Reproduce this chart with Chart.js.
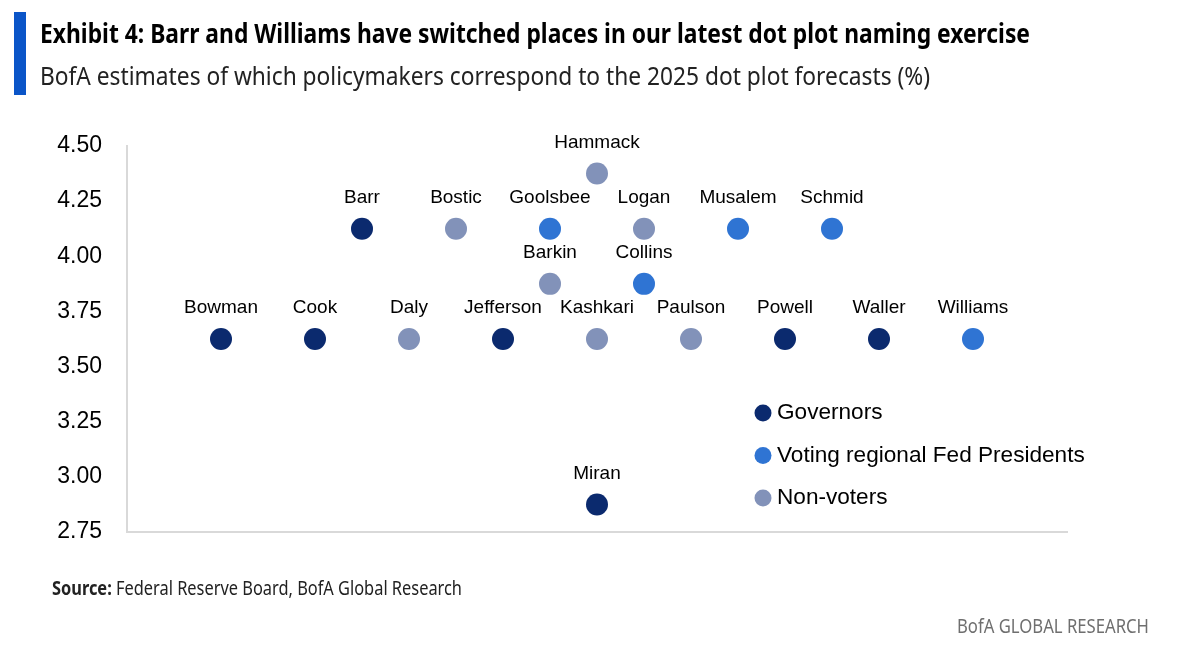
<!DOCTYPE html>
<html>
<head>
<meta charset="utf-8">
<script src="https://cdn.jsdelivr.net/npm/chart.js@4.4.1/dist/chart.umd.min.js"></script>
<style>
  html, body { margin: 0; padding: 0; background: #fff; }
  #page { position: relative; width: 1181px; height: 657px; overflow: hidden; background: #fff; }
  #bar { position: absolute; left: 14px; top: 12px; width: 12px; height: 83px; background: #0b55c8; }
  .fit { position: absolute; white-space: nowrap; transform-origin: 0 50%; line-height: 1; }
  #title { left: 40px; top: 19px; font-family: "Liberation Sans Narrow", "Noto Sans", sans-serif; font-weight: bold; font-size: 27px; color: #000; }
  #subtitle { left: 40px; top: 62px; font-family: "Liberation Sans Narrow", "Noto Sans", sans-serif; font-size: 26px; color: #222; }
  #source { left: 52px; top: 579px; font-family: "Liberation Sans Narrow", "Noto Sans", sans-serif; font-size: 19px; color: #222; }
  #brand { left: 957px; top: 616px; font-family: "Liberation Sans Narrow", "Noto Sans", sans-serif; font-size: 20px; color: #6f6f6f; }
  #wrap { position: absolute; left: 0; top: 0; width: 1181px; height: 657px; }
</style>
</head>
<body>
<div id="page">
  <div id="wrap"><canvas id="c" width="1181" height="657"></canvas></div>
  <div id="bar"></div>
  <div id="title" class="fit" data-w="990">Exhibit 4: Barr and Williams have switched places in our latest dot plot naming exercise</div>
  <div id="subtitle" class="fit" data-w="890">BofA estimates of which policymakers correspond to the 2025 dot plot forecasts (%)</div>
  <div id="source" class="fit" data-w="410"><b>Source:</b> Federal Reserve Board, BofA Global Research</div>
  <div id="brand" class="fit" data-w="192">BofA GLOBAL RESEARCH</div>
</div>
<script>
// ---- Data ----
const names  = ["Bowman","Cook","Daly","Jefferson","Kashkari","Paulson","Powell","Waller","Williams",
                "Barr","Bostic","Goolsbee","Logan","Musalem","Schmid",
                "Barkin","Collins","Hammack","Miran"];
const xPos   = [1,2,3,4,5,6,7,8,9,
                2.5,3.5,4.5,5.5,6.5,7.5,
                4.5,5.5,5,5];
const rates  = [3.625,3.625,3.625,3.625,3.625,3.625,3.625,3.625,3.625,
                4.125,4.125,4.125,4.125,4.125,4.125,
                3.875,3.875,4.375,2.875];
const groups = ["gov","gov","non","gov","non","non","gov","gov","vote",
                "gov","non","vote","non","vote","vote",
                "non","vote","non","gov"];
const groupKeys   = ["gov","vote","non"];
const groupLabels = ["Governors","Voting regional Fed Presidents","Non-voters"];
const groupColors = ["#0b2a6e","#2f74d3","#8292b9"];
const yTicks = [2.75,3.00,3.25,3.50,3.75,4.00,4.25,4.50];

// ---- Build datasets ----
const datasets = groupKeys.map((k, gi) => {
  const pts = [];
  names.forEach((n, i) => { if (groups[i] === k) pts.push({x: xPos[i], y: rates[i], name: n}); });
  return {
    label: groupLabels[gi],
    data: pts,
    backgroundColor: groupColors[gi],
    borderWidth: 0,
    pointRadius: 11,
    pointHoverRadius: 11
  };
});

const pointLabels = {
  id: 'pointLabels',
  afterDatasetsDraw(chart) {
    const ctx = chart.ctx;
    ctx.save();
    ctx.font = '19px "Liberation Sans", Arial, sans-serif';
    ctx.fillStyle = '#000';
    ctx.textAlign = 'center';
    ctx.textBaseline = 'middle';
    chart.data.datasets.forEach((ds, di) => {
      const meta = chart.getDatasetMeta(di);
      meta.data.forEach((el, i) => {
        ctx.fillText(ds.data[i].name, el.x, el.y - 31);
      });
    });
    ctx.restore();
  }
};

const customLegend = {
  id: 'customLegend',
  afterDraw(chart) {
    const ctx = chart.ctx;
    ctx.save();
    ctx.font = '22.6px "Liberation Sans", Arial, sans-serif';
    ctx.textBaseline = 'middle';
    ctx.textAlign = 'left';
    chart.data.datasets.forEach((ds, i) => {
      const y = 413 + i * 42.5;
      ctx.fillStyle = ds.backgroundColor;
      ctx.beginPath();
      ctx.arc(763, y, 8.5, 0, Math.PI * 2);
      ctx.fill();
      ctx.fillStyle = '#000';
      ctx.fillText(ds.label, 777, y);
    });
    ctx.restore();
  }
};

new Chart(document.getElementById('c'), {
  type: 'scatter',
  data: { datasets },
  options: {
    responsive: false,
    animation: false,
    events: [],
    layout: { padding: { top: 146, right: 114, left: 0, bottom: 0 } },
    plugins: { legend: { display: false }, tooltip: { enabled: false } },
    scales: {
      x: {
        type: 'linear', min: 0, max: 10,
        grid: { display: false, drawTicks: false },
        ticks: { display: false },
        border: { display: true, color: '#d9d9d9', width: 2 },
        afterFit(s) { s.height = 125; }
      },
      y: {
        type: 'linear', min: 2.75, max: 4.5,
        afterBuildTicks(s) { s.ticks = yTicks.map(v => ({ value: v })); },
        grid: { display: false, drawTicks: false },
        border: { display: true, color: '#d9d9d9', width: 2 },
        ticks: {
          padding: 25,
          color: '#000',
          font: { family: '"Liberation Sans", Arial, sans-serif', size: 23 },
          callback: v => Number(v).toFixed(2)
        },
        afterFit(s) { s.width = 127; }
      }
    }
  },
  plugins: [pointLabels, customLegend]
});

// fit text widths
document.querySelectorAll('.fit').forEach(el => {
  const w = el.getBoundingClientRect().width;
  const target = parseFloat(el.dataset.w);
  if (w > 0) el.style.transform = 'scaleX(' + (target / w) + ')';
});
</script>
</body>
</html>
